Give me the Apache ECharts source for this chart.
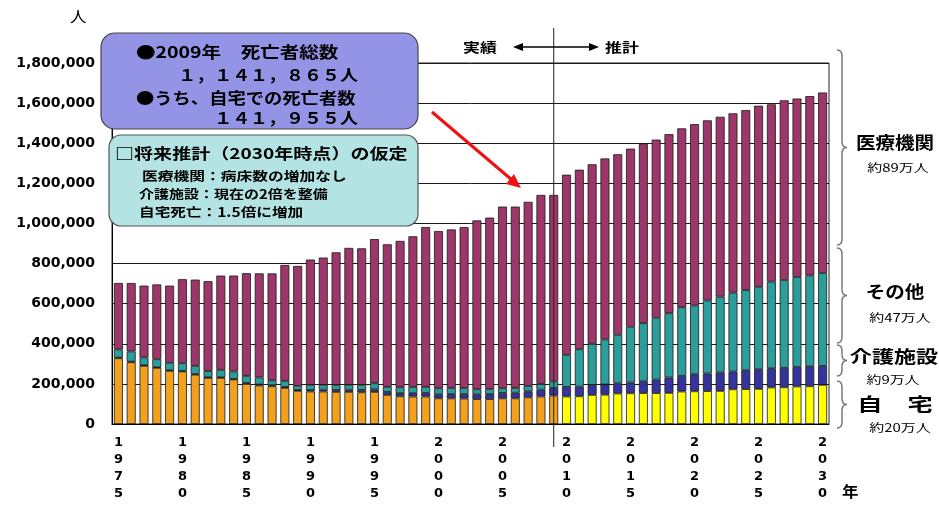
<!DOCTYPE html>
<html><head><meta charset="utf-8">
<script src="https://cdn.jsdelivr.net/npm/echarts@6/dist/echarts.min.js"></script>
<style>html,body{margin:0;padding:0;background:#fff}#c{width:939px;height:509px}</style>
</head><body><div id="c"></div>
<script>
const years = ['1975','1976','1977','1978','1979','1980','1981','1982','1983','1984','1985','1986','1987','1988','1989',
'1990','1991','1992','1993','1994','1995','1996','1997','1998','1999','2000','2001','2002','2003','2004','2005','2006','2007','2008','2009',
'2010','2011','2012','2013','2014','2015','2016','2017','2018','2019','2020','2021','2022','2023','2024','2025','2026','2027','2028','2029','2030'];
// 自宅
const home = [328000,308000,290000,280000,265000,262000,246000,230000,230000,222000,200000,192000,188000,180000,165000,
162000,162000,160000,160000,158000,160000,145000,138000,137000,137000,128000,128000,127000,124000,124000,128000,128000,133000,137000,142000,
137000,138000,145000,146000,152000,153000,154000,154000,155000,162000,163000,164000,165000,173000,174000,175000,182000,183000,187000,188000,195000];
// 介護施設
const care = [3000,3000,3000,3000,3000,3000,3000,3000,3000,3000,5000,5000,5000,5000,5000,
8000,9000,10000,11000,12000,13000,15000,16000,17000,18000,20000,21000,22000,24000,25000,27000,28000,30000,34000,38000,
48000,49000,50000,51000,51000,54000,59000,68000,77000,78000,85000,88000,92000,89000,94000,98000,96000,97000,98000,100000,95000];
// その他
const other = [41000,51000,39000,40000,37000,38000,41000,31000,37000,37000,35000,35000,25000,30000,20000,
25000,24000,25000,24000,25000,30000,25000,29000,31000,30000,30000,31000,31000,25000,26000,23000,24000,27000,29000,32000,
160000,186000,205000,225000,242000,278000,290000,308000,320000,342000,343000,364000,378000,393000,400000,411000,432000,438000,448000,453000,463000];
// 医療機関
const medical = [331000,341000,358000,373000,385000,419000,430000,448000,470000,478000,512000,519000,533000,578000,598000,
625000,635000,661000,683000,681000,719000,711000,730000,751000,797000,784000,790000,802000,842000,854000,906000,904000,918000,942000,930000,
898000,895000,895000,902000,900000,888000,894000,888000,893000,892000,904000,898000,897000,894000,897000,903000,884000,896000,890000,894000,900000];
const yMin = 0, yMax = 1800000, yStep = 200000;
const projectionStart = '2010';
const lastActual = '2009';

const JP = '"Noto Sans CJK JP", sans-serif';
const NUM = '"DejaVu Sans", "Liberation Sans", sans-serif';
const projIdx = years.indexOf(projectionStart);
const border = {borderColor:'#1b1b1b', borderWidth:0.8};
const chart = echarts.init(document.getElementById('c'));
function mk(name, arr, color, perItem){
  return {type:'bar', name, stack:'total', barCategoryGap:'30%',
    itemStyle:Object.assign({color}, border),
    data: arr.map((v,i)=> perItem ? {value:v, itemStyle:{color: perItem(i)}} : v)};
}
chart.setOption({
  animation:false,
  grid:{left:112, right:110, top:63, bottom:85, show:true, borderColor:'#222', borderWidth:1},
  xAxis:{type:'category', data:years,
    axisLine:{lineStyle:{color:'#000', width:1}}, axisTick:{show:false},
    axisLabel:{interval:(i)=> i%5===0, color:'#000', fontWeight:'bold', fontSize:13, lineHeight:17,
      fontFamily:NUM, margin:10,
      formatter:(v)=> v.split('').join('\n')}},
  yAxis:{type:'value', min:yMin, max:yMax, interval:yStep,
    axisLine:{show:true, lineStyle:{color:'#000', width:1}}, axisTick:{show:false},
    splitLine:{lineStyle:{color:'#1a1a1a', width:1}},
    axisLabel:{color:'#000', fontWeight:'bold', fontSize:14, margin:17,
      fontFamily:NUM,
      formatter:(v)=> v.toLocaleString('en-US')}},
  series:[
    mk('自宅', home, '#f2a01e', (i)=> i>=projIdx ? '#ffff00' : '#f2a01e'),
    mk('介護施設', care, '#35349c'),
    mk('その他', other, '#2b9e9c'),
    mk('医療機関', medical, '#9d3669')
  ]
});

const vx = chart.convertToPixel({xAxisIndex:0}, lastActual);
const bStyle = {stroke:'#777', lineWidth:1.5, fill:null};
function brace(x, y0, y1){
  const ym = (y0+y1)/2, r = Math.min(6,(y1-y0)/4), xm = x+5;
  return [
    {type:'bezierCurve', z:100, shape:{x1:x, y1:y0, x2:xm, y2:y0+r, cpx1:xm, cpy1:y0}, style:bStyle},
    {type:'line', z:100, shape:{x1:xm, y1:y0+r, x2:xm, y2:ym-r}, style:bStyle},
    {type:'bezierCurve', z:100, shape:{x1:xm, y1:ym-r, x2:x+10, y2:ym, cpx1:xm, cpy1:ym}, style:bStyle},
    {type:'bezierCurve', z:100, shape:{x1:x+10, y1:ym, x2:xm, y2:ym+r, cpx1:xm, cpy1:ym}, style:bStyle},
    {type:'line', z:100, shape:{x1:xm, y1:ym+r, x2:xm, y2:y1-r}, style:bStyle},
    {type:'bezierCurve', z:100, shape:{x1:xm, y1:y1-r, x2:x, y2:y1, cpx1:xm, cpy1:y1}, style:bStyle}
  ];
}
function txt(t, x, y, size, weight, align, sx){
  return {type:'text', z:120, x, y, scaleX:sx||1.2, scaleY:1,
    style:{text:t, x:0, y:0, fill:'#000', fontSize:size, fontWeight:weight||'bold',
    fontFamily:JP, align:align||'left', verticalAlign:'middle'}};
}
const g = [
  {type:'line', z:90, shape:{x1:vx, y1:28, x2:vx, y2:447}, style:{stroke:'#222', lineWidth:1}},
  // 実績 <-> 推計
  txt('実績', 463, 47, 13, 'bold', 'left', 1.3),
  {type:'line', z:100, shape:{x1:520, y1:47, x2:592, y2:47}, style:{stroke:'#000', lineWidth:1.6}},
  {type:'polygon', z:100, shape:{points:[[513,47],[523,43],[523,51]]}, style:{fill:'#000'}},
  {type:'polygon', z:100, shape:{points:[[599,47],[589,43],[589,51]]}, style:{fill:'#000'}},
  txt('推計', 605, 47, 13, 'bold', 'left', 1.3),
  // boxes
  {type:'rect', z:110, shape:{x:101, y:33, width:317, height:96, r:14}, style:{fill:'#9494e6', stroke:'#444', lineWidth:1.2}},
  txt('●2009年　死亡者総数', 136, 52, 16, 'bold', 'left', 1.22),
  txt('１，１４１，８６５人', 358, 75, 15.5, 'bold', 'right', 1.16),
  txt('●うち、自宅での死亡者数', 136, 98, 15.5, 'bold', 'left', 1.18),
  txt('１４１，９５５人', 358, 118, 15.5, 'bold', 'right', 1.16),
  {type:'rect', z:110, shape:{x:109, y:135, width:309, height:91, r:12}, style:{fill:'#b3e3e3', stroke:'#555', lineWidth:1.2}},
  txt('□将来推計（2030年時点）の仮定', 115, 153, 15, 'bold', 'left', 1.27),
  txt('医療機関：病床数の増加なし', 142, 176, 12.5, 'bold', 'left', 1.26),
  txt('介護施設：現在の2倍を整備', 139, 194, 12.5, 'bold', 'left', 1.2),
  txt('自宅死亡：1.5倍に増加', 139, 212, 12.5, 'bold', 'left', 1.25),
  // red arrow
  {type:'line', z:115, shape:{x1:432, y1:112, x2:512, y2:180}, style:{stroke:'#ee1111', lineWidth:3}},
  {type:'polygon', z:115, shape:{points:[[521,188],[506,184],[514,174]]}, style:{fill:'#ee1111'}},
  // axis units
  txt('人', 70, 16, 15, 'normal', 'left', 1.1),
  txt('年', 842, 491, 15, 'bold', 'left', 1.1),
  ...brace(837, 50, 245),
  ...brace(837, 248, 343),
  ...brace(837, 345, 376),
  ...brace(837, 381, 428),
  txt('医療機関', 895, 143, 17, 'bold', 'center', 1.15),
  txt('約89万人', 898, 168, 11.5, 'normal', 'center', 1.3),
  txt('その他', 895, 292, 17, 'bold', 'center', 1.15),
  txt('約47万人', 900, 318, 11.5, 'normal', 'center', 1.3),
  txt('介護施設', 894, 357, 17, 'bold', 'center', 1.3),
  txt('約9万人', 893, 380, 11.5, 'normal', 'center', 1.3),
  txt('自　宅', 895, 404, 18, 'bold', 'center', 1.4),
  txt('約20万人', 900, 428, 11.5, 'normal', 'center', 1.3)
];
chart.setOption({graphic:g});
</script></body></html>
